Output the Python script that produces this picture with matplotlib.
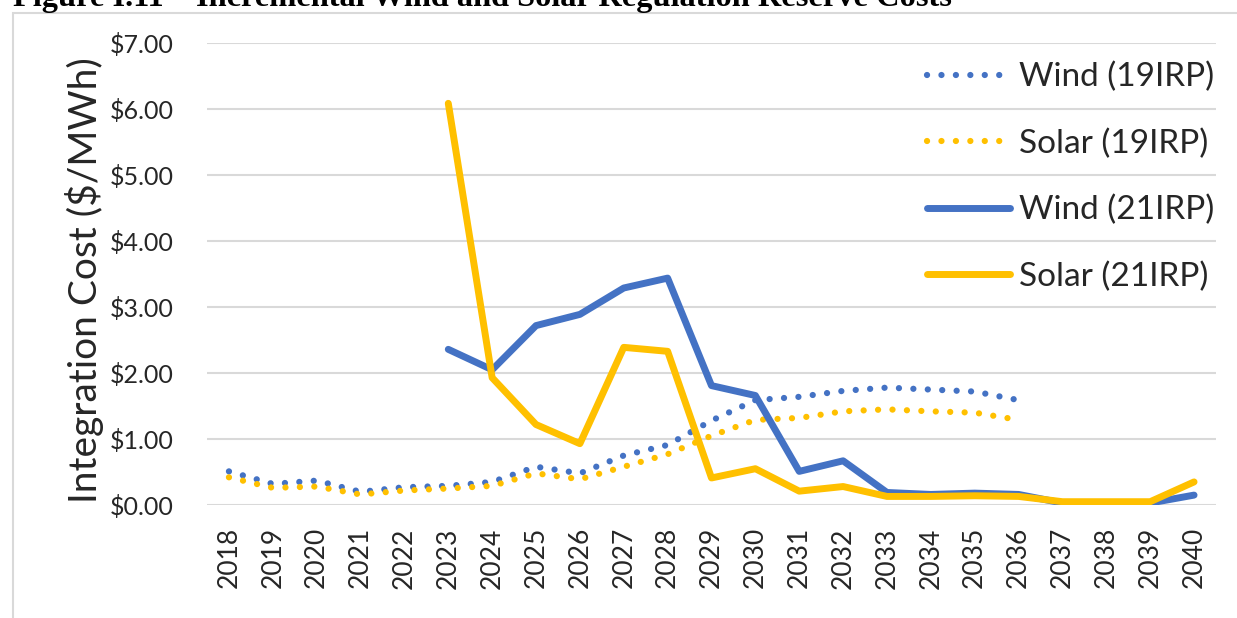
import matplotlib.pyplot as plt
from matplotlib.patches import Rectangle

years = [str(y) for y in range(2018, 2041)]

# $/MWh, None where a series has no value
wind_19 = [0.51, 0.32, 0.37, 0.20, 0.27, 0.29, 0.35, 0.58, 0.48, 0.75, 0.91,
           1.28, 1.59, 1.64, 1.73, 1.78, 1.75, 1.72, 1.59, None, None, None, None]
solar_19 = [0.42, 0.26, 0.28, 0.16, 0.22, 0.25, 0.29, 0.48, 0.39, 0.58, 0.77,
            1.05, 1.29, 1.32, 1.42, 1.45, 1.42, 1.40, 1.29, None, None, None, None]
wind_21 = [None, None, None, None, None, 2.36, 2.05, 2.72, 2.89, 3.29, 3.44,
           1.81, 1.66, 0.51, 0.67, 0.19, 0.16, 0.18, 0.16, 0.03, 0.03, 0.03, 0.15]
solar_21 = [None, None, None, None, None, 6.09, 1.93, 1.22, 0.93, 2.39, 2.33,
            0.41, 0.55, 0.21, 0.28, 0.13, 0.13, 0.14, 0.13, 0.05, 0.05, 0.05, 0.35]

y_ticks = [0, 1, 2, 3, 4, 5, 6, 7]

BLUE = '#4472C4'
GOLD = '#FFC000'
GRID = '#D9D9D9'
TXT = '#262626'

plt.rcParams['font.family'] = ['Lato', 'DejaVu Sans']

fig = plt.figure(figsize=(12.37, 6.18), dpi=100)
ax = fig.add_axes([207 / 1237, 113 / 618, 1009 / 1237, 461.7 / 618])

x = list(range(len(years)))


def clean(vals):
    return [float('nan') if v is None else v for v in vals]


dots = (0, (0.01, 2.3))
ax.plot(x, clean(wind_19), color=BLUE, lw=4.5, linestyle=dots,
        dash_capstyle='round', label='Wind (19IRP)')
ax.plot(x, clean(solar_19), color=GOLD, lw=4.5, linestyle=dots,
        dash_capstyle='round', label='Solar (19IRP)')
ax.plot(x, clean(wind_21), color=BLUE, lw=5, solid_capstyle='round',
        solid_joinstyle='round', label='Wind (21IRP)')
ax.plot(x, clean(solar_21), color=GOLD, lw=5, solid_capstyle='round',
        solid_joinstyle='round', label='Solar (21IRP)')

ax.set_xlim(-0.5, len(years) - 0.5)
ax.set_ylim(0, 7)
ax.set_yticks(y_ticks)
ax.set_yticklabels(['${:.2f}'.format(v) for v in y_ticks])
ax.set_xticks(x)
ax.set_xticklabels(years, rotation=90)
ax.tick_params(axis='y', length=0, pad=24, labelsize=18, labelcolor=TXT)
ax.tick_params(axis='x', length=0, pad=16, labelsize=19, labelcolor=TXT)

ax.grid(axis='y', color=GRID, lw=1.5)
ax.set_axisbelow(True)
for s in ax.spines.values():
    s.set_visible(False)

fig.text(85 / 1237, 1 - 280 / 618, 'Integration Cost ($/MWh)', rotation=90,
         ha='center', va='center', fontsize=28, color=TXT)

leg = ax.legend(loc='upper left', bbox_to_anchor=(927 / 1237, 1 - 62 / 618),
                bbox_transform=fig.transFigure, frameon=False, fontsize=24,
                handlelength=2.5, handletextpad=0.25, labelspacing=1.08,
                borderpad=0, borderaxespad=0)
for t in leg.get_texts():
    t.set_color(TXT)

# outer chart frame (cut off by the page crop on right and bottom)
fig.patches.append(Rectangle((12.7 / 1237, -0.1), 1.2, 1 - 12.7 / 618 + 0.1,
                             transform=fig.transFigure, fill=False,
                             edgecolor=GRID, lw=1.5))

# figure caption, mostly cropped at the top of the page
fig.text(13 / 1237, 1 - 6 / 618,
         'Figure I.11 \u2013 Incremental Wind and Solar Regulation Reserve Costs',
         family='Liberation Serif', fontweight='bold', fontsize=23.3,
         va='baseline', ha='left', color='black')

fig.savefig('out.png', dpi=100)
